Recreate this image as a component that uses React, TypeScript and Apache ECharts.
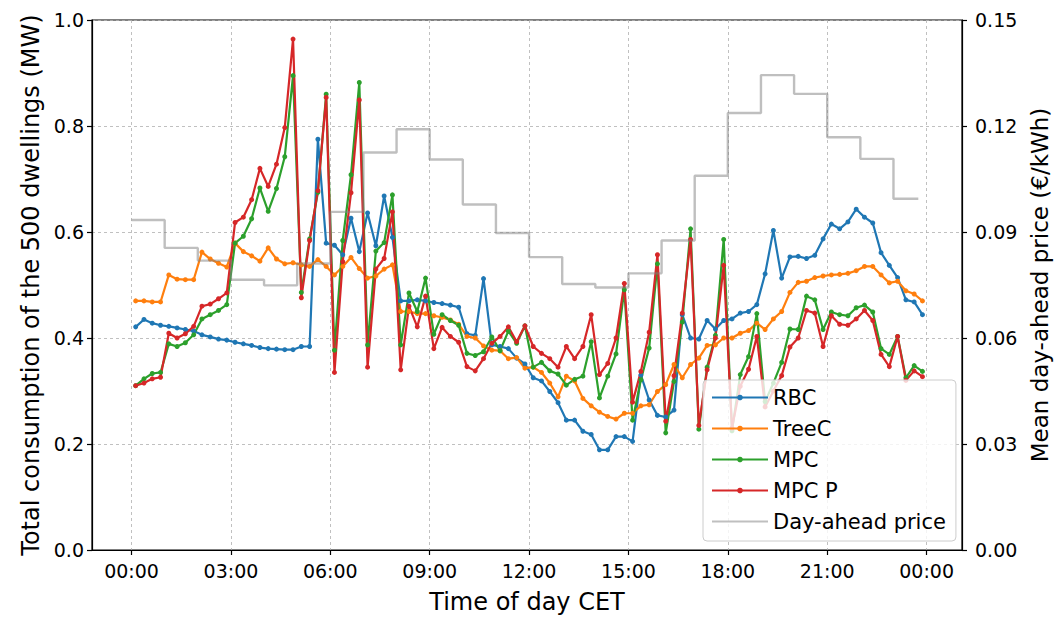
import React, { useEffect, useRef } from "react";
import * as echarts from "echarts";

// 15-minute slots, values plotted at the middle of each slot (minutes after 00:00)
const SLOT_MIN = 15;
const X_TICKS = [0, 180, 360, 540, 720, 900, 1080, 1260, 1440];
const LEFT_TICK_INTERVAL = 0.2;
const RIGHT_TICK_INTERVAL = 0.03;

const RBC = [
  0.421, 0.435, 0.428, 0.424, 0.422, 0.419, 0.416, 0.413, 0.406, 0.402, 0.398, 0.396, 0.392, 0.389, 0.386, 0.382,
  0.380, 0.379, 0.378, 0.378, 0.384, 0.384, 0.775, 0.579, 0.575, 0.557, 0.626, 0.563, 0.636, 0.574, 0.668, 0.590,
  0.470, 0.470, 0.472, 0.470, 0.467, 0.465, 0.462, 0.458, 0.408, 0.405, 0.512, 0.387, 0.384, 0.380, 0.362, 0.351,
  0.325, 0.319, 0.299, 0.278, 0.245, 0.245, 0.224, 0.218, 0.189, 0.189, 0.214, 0.214, 0.205, 0.330, 0.283, 0.254,
  0.251, 0.264, 0.444, 0.400, 0.398, 0.433, 0.417, 0.433, 0.436, 0.447, 0.450, 0.463, 0.521, 0.603, 0.513, 0.553,
  0.554, 0.550, 0.556, 0.587, 0.615, 0.606, 0.619, 0.643, 0.628, 0.617, 0.561, 0.537, 0.514, 0.472, 0.468, 0.444,
];

const TREEC = [
  0.470, 0.470, 0.468, 0.468, 0.519, 0.511, 0.510, 0.510, 0.562, 0.549, 0.541, 0.534, 0.579, 0.563, 0.555, 0.545,
  0.570, 0.549, 0.540, 0.542, 0.538, 0.535, 0.548, 0.535, 0.519, 0.535, 0.552, 0.531, 0.513, 0.517, 0.530, 0.538,
  0.450, 0.450, 0.446, 0.446, 0.442, 0.439, 0.434, 0.426, 0.403, 0.400, 0.385, 0.377, 0.376, 0.361, 0.363, 0.343,
  0.345, 0.335, 0.315, 0.289, 0.328, 0.319, 0.286, 0.272, 0.260, 0.252, 0.247, 0.258, 0.258, 0.272, 0.274, 0.299,
  0.312, 0.350, 0.325, 0.350, 0.362, 0.386, 0.387, 0.400, 0.400, 0.409, 0.414, 0.428, 0.416, 0.436, 0.450, 0.486,
  0.505, 0.507, 0.514, 0.517, 0.519, 0.520, 0.522, 0.527, 0.535, 0.535, 0.519, 0.504, 0.507, 0.489, 0.483, 0.470,
];

const MPC = [
  0.310, 0.323, 0.333, 0.335, 0.389, 0.384, 0.391, 0.406, 0.436, 0.444, 0.452, 0.463, 0.579, 0.592, 0.625, 0.683,
  0.639, 0.682, 0.742, 0.895, 0.486, 0.587, 0.675, 0.860, 0.377, 0.584, 0.708, 0.882, 0.387, 0.564, 0.580, 0.670,
  0.387, 0.485, 0.450, 0.513, 0.407, 0.444, 0.433, 0.424, 0.371, 0.367, 0.374, 0.402, 0.376, 0.413, 0.390, 0.423,
  0.345, 0.354, 0.338, 0.332, 0.311, 0.322, 0.328, 0.393, 0.287, 0.328, 0.370, 0.491, 0.245, 0.321, 0.381, 0.540,
  0.221, 0.318, 0.430, 0.606, 0.228, 0.345, 0.405, 0.586, 0.225, 0.331, 0.365, 0.446, 0.280, 0.315, 0.354, 0.417,
  0.416, 0.479, 0.472, 0.416, 0.449, 0.444, 0.442, 0.457, 0.462, 0.449, 0.380, 0.369, 0.403, 0.325, 0.348, 0.337,
];

const MPC_P = [
  0.310, 0.315, 0.323, 0.326, 0.409, 0.400, 0.408, 0.422, 0.460, 0.464, 0.474, 0.485, 0.618, 0.628, 0.661, 0.720,
  0.686, 0.728, 0.797, 0.964, 0.476, 0.584, 0.678, 0.854, 0.335, 0.544, 0.674, 0.849, 0.345, 0.530, 0.550, 0.638,
  0.340, 0.460, 0.421, 0.479, 0.380, 0.420, 0.403, 0.392, 0.346, 0.338, 0.361, 0.390, 0.403, 0.421, 0.393, 0.423,
  0.384, 0.371, 0.361, 0.345, 0.384, 0.361, 0.384, 0.444, 0.331, 0.352, 0.400, 0.503, 0.279, 0.337, 0.411, 0.557,
  0.243, 0.329, 0.447, 0.586, 0.235, 0.340, 0.400, 0.537, 0.230, 0.309, 0.341, 0.403, 0.270, 0.300, 0.329, 0.383,
  0.400, 0.452, 0.447, 0.384, 0.442, 0.426, 0.424, 0.436, 0.452, 0.433, 0.369, 0.346, 0.403, 0.320, 0.338, 0.327,
];

// Hourly day-ahead price (EUR/kWh), 00:00 ... 23:00
const PRICE_HOURLY = [
  0.0934, 0.0855, 0.0819, 0.0765, 0.0749, 0.0811, 0.0957, 0.1125, 0.1191, 0.1105, 0.0978, 0.0897,
  0.0829, 0.0753, 0.0743, 0.0783, 0.0876, 0.1059, 0.1237, 0.1344, 0.1291, 0.1168, 0.1107, 0.0994,
];
const PRICE_LAST_MIN = 1425; // price line ends at 23:45

const FONT = "DejaVu Sans";

function fmtTime(v: number): string {
  const m = ((Math.round(v) % 1440) + 1440) % 1440;
  const h = Math.floor(m / 60);
  const mm = m % 60;
  return String(h).padStart(2, "0") + ":" + String(mm).padStart(2, "0");
}

function toPoints(arr: number[]) {
  return arr.map((v, i) => [SLOT_MIN / 2 + i * SLOT_MIN, v]);
}

export default function App() {
  const ref = useRef<HTMLDivElement>(null);
  useEffect(() => {
    if (!ref.current) return;
    const chart = echarts.init(ref.current, undefined, { renderer: "svg" });
    const xFirst = 0;
    const xLast = SLOT_MIN / 2 + (RBC.length - 1) * SLOT_MIN;
    const pad = (xLast - xFirst) * 0.05;
    const priceData = PRICE_HOURLY.map((v, i) => [i * 60, v]);
    priceData.push([PRICE_LAST_MIN, PRICE_HOURLY[PRICE_HOURLY.length - 1]]);

    const lineSeries = (name: string, data: number[], color: string) => ({
      name,
      type: "line",
      data: toPoints(data),
      symbol: "circle",
      symbolSize: 5,
      showSymbol: true,
      lineStyle: { color, width: 2.2 },
      itemStyle: { color },
      z: 3,
    });

    const axisLineStyle = { color: "#000", width: 1.2 };
    const gridLineStyle = { type: [3, 3], color: "#b0b0b0", width: 0.8 };
    const option: any = {
      animation: false,
      textStyle: { fontFamily: FONT },
      grid: {
        left: 92,
        right: 93,
        top: 20,
        bottom: 69,
        containLabel: false,
        outerBoundsMode: "none",
        show: true,
        borderColor: "#000",
        borderWidth: 1.2,
        backgroundColor: "transparent",
      },
      xAxis: {
        type: "value",
        min: xFirst - pad,
        max: xLast + pad,
        name: "Time of day CET",
        nameLocation: "middle",
        nameGap: 40,
        nameTextStyle: { fontSize: 24, color: "#000", fontFamily: FONT },
        axisLine: { show: true, onZero: false, lineStyle: axisLineStyle },
        axisTick: { show: true, customValues: X_TICKS, length: 5, lineStyle: axisLineStyle },
        axisLabel: {
          customValues: X_TICKS,
          formatter: (v: number) => fmtTime(v),
          fontSize: 19,
          color: "#000",
          margin: 11,
          fontFamily: FONT,
        },
        splitLine: { show: true, lineStyle: gridLineStyle },
      },
      yAxis: [
        {
          type: "value",
          position: "left",
          min: 0,
          max: 1,
          interval: LEFT_TICK_INTERVAL,
          name: "Total consumption of the 500 dwellings (MW)",
          nameLocation: "middle",
          nameRotate: 90,
          nameGap: 47,
          nameTextStyle: { fontSize: 24, color: "#000", fontFamily: FONT },
          axisLine: { show: true, onZero: false, lineStyle: axisLineStyle },
          axisTick: { show: true, length: 5, lineStyle: axisLineStyle },
          axisLabel: { formatter: (v: number) => v.toFixed(1), fontSize: 19, color: "#000", margin: 8, fontFamily: FONT },
          splitLine: { show: true, lineStyle: gridLineStyle },
        },
        {
          type: "value",
          position: "right",
          min: 0,
          max: 0.15,
          interval: RIGHT_TICK_INTERVAL,
          name: "Mean day-ahead price (€/kWh)",
          nameLocation: "middle",
          nameRotate: 90,
          nameGap: 66,
          nameTextStyle: { fontSize: 23, color: "#000", fontFamily: FONT },
          axisLine: { show: true, onZero: false, lineStyle: axisLineStyle },
          axisTick: { show: true, length: 5, lineStyle: axisLineStyle },
          axisLabel: { formatter: (v: number) => v.toFixed(2), fontSize: 19, color: "#000", margin: 13, fontFamily: FONT },
          splitLine: { show: false },
        },
      ],
      legend: {
        orient: "vertical",
        left: 703,
        top: 380,
        width: 250,
        padding: [7, 10, 9, 8],
        itemWidth: 56,
        itemHeight: 7,
        itemGap: 10,
        backgroundColor: "rgba(255,255,255,0.8)",
        borderColor: "#cccccc",
        borderWidth: 1,
        borderRadius: 4,
        textStyle: { fontSize: 21, color: "#000", fontFamily: FONT, lineHeight: 21 },
        data: [
          { name: "RBC" },
          { name: "TreeC" },
          { name: "MPC" },
          { name: "MPC P" },
          { name: "Day-ahead price", itemStyle: { opacity: 0 } },
        ],
        z: 10,
      },
      series: [
        lineSeries("RBC", RBC, "#1f77b4"),
        lineSeries("TreeC", TREEC, "#ff7f0e"),
        lineSeries("MPC", MPC, "#2ca02c"),
        lineSeries("MPC P", MPC_P, "#d62728"),
        {
          name: "Day-ahead price",
          type: "line",
          yAxisIndex: 1,
          step: "end",
          data: priceData,
          showSymbol: false,
          symbol: "circle",
          symbolSize: 0,
          lineStyle: { color: "#808080", width: 2.4, opacity: 0.5 },
          itemStyle: { color: "#808080", opacity: 0 },
          z: 4,
        },
      ],
    };
    chart.setOption(option);
    return () => chart.dispose();
  }, []);
  return (
    <div
      ref={ref}
      style={{ position: "fixed", left: 0, top: 0, width: 1055, height: 619, background: "#fff" }}
    />
  );
}
